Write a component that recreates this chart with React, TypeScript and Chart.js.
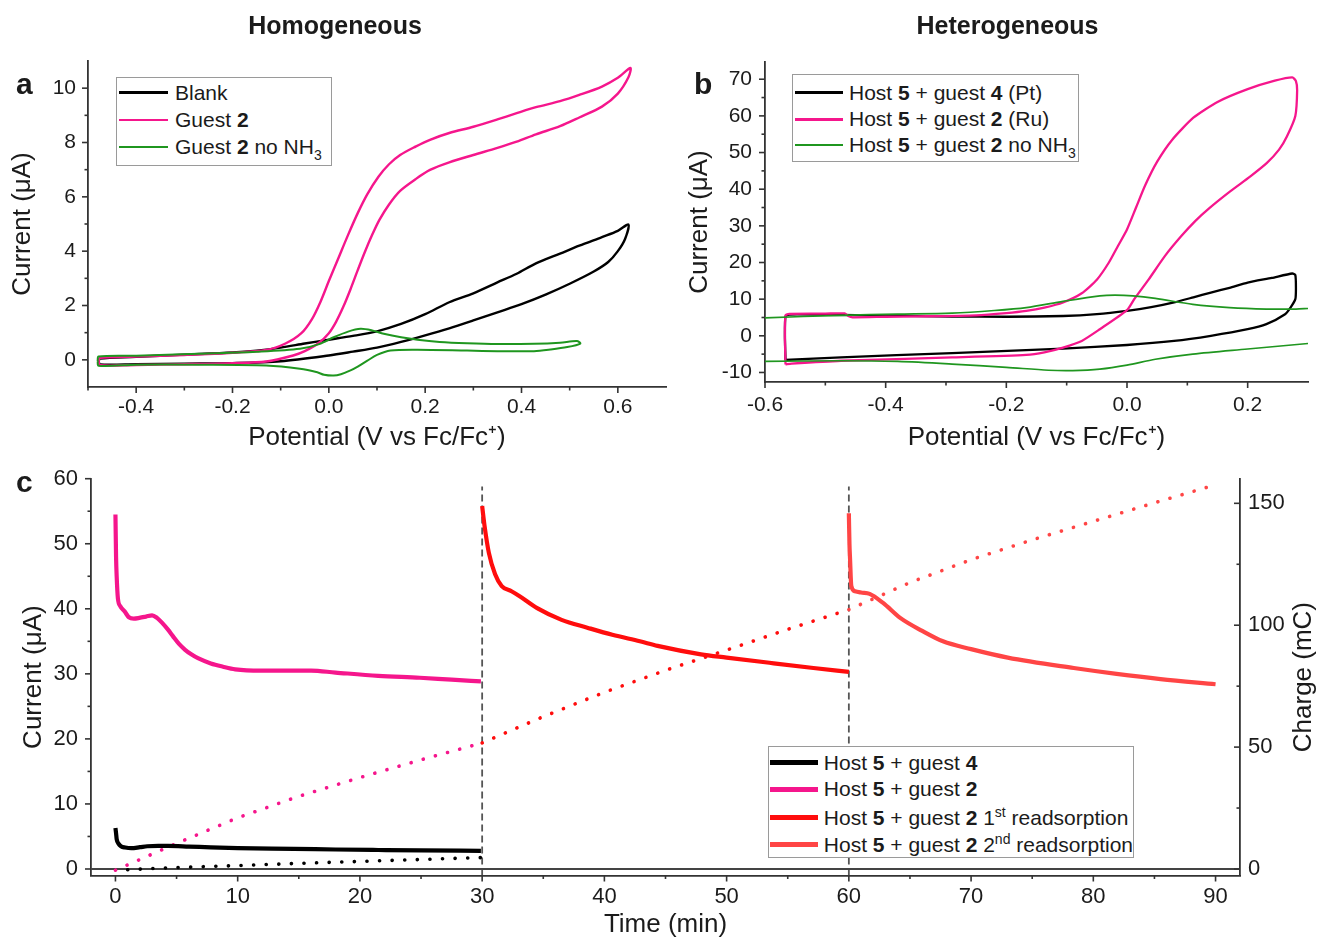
import React, { useEffect, useRef } from "react";
import { Chart, registerables } from "chart.js";

Chart.register(...registerables);

type Pt = [number, number];

const FONT = "'Liberation Sans', Arial, Helvetica, sans-serif";
const INK = "#1b1b1b";
const AXIS = "#333333";
const PINK = "#f5168c";
const GREEN = "#1f961f";
const BLACK = "#000000";
const RED1 = "#ff0d0d";
const RED2 = "#ff4545";

// ---------- Panel a : homogeneous CV (potential V, current uA) ----------
const aBlank: Pt[] = [
  [-0.478, -0.05], [-0.475, -0.17], [-0.4, -0.16], [-0.3, -0.14], [-0.2, -0.12], [-0.1, -0.05],
  [0.0, 0.16], [0.05, 0.3], [0.1, 0.45], [0.15, 0.66], [0.2, 0.9], [0.25, 1.16], [0.3, 1.45],
  [0.35, 1.75], [0.4, 2.05], [0.45, 2.4], [0.5, 2.8], [0.55, 3.25], [0.58, 3.6], [0.6, 4.0],
  [0.615, 4.45], [0.622, 4.98], [0.6, 4.75], [0.567, 4.52], [0.52, 4.2], [0.48, 3.91], [0.43, 3.55],
  [0.39, 3.17], [0.35, 2.85], [0.3, 2.45], [0.25, 2.12], [0.2, 1.68], [0.15, 1.32], [0.1, 1.05],
  [0.05, 0.88], [0.0, 0.74], [-0.05, 0.6], [-0.1, 0.45], [-0.15, 0.34], [-0.2, 0.27], [-0.3, 0.19],
  [-0.4, 0.11], [-0.475, 0.05], [-0.478, -0.05],
];
const aGuest2: Pt[] = [
  [-0.478, -0.07], [-0.475, -0.2], [-0.4, -0.19], [-0.3, -0.16], [-0.2, -0.12], [-0.13, -0.06],
  [-0.074, 0.16], [-0.05, 0.32], [-0.021, 0.62], [0.0, 0.98], [0.015, 1.4], [0.03, 1.95], [0.045, 2.6],
  [0.06, 3.3], [0.075, 3.98], [0.09, 4.6], [0.105, 5.15], [0.125, 5.72], [0.148, 6.22], [0.18, 6.65],
  [0.21, 6.99], [0.25, 7.27], [0.3, 7.54], [0.35, 7.8], [0.39, 8.03], [0.43, 8.3], [0.48, 8.6],
  [0.52, 8.92], [0.567, 9.32], [0.6, 9.8], [0.622, 10.4], [0.626, 10.74], [0.6, 10.38], [0.567, 10.06],
  [0.52, 9.75], [0.48, 9.52], [0.43, 9.3], [0.39, 9.08], [0.35, 8.85], [0.3, 8.58], [0.25, 8.35],
  [0.21, 8.1], [0.18, 7.85], [0.148, 7.54], [0.125, 7.2], [0.103, 6.74], [0.08, 6.1], [0.06, 5.4],
  [0.04, 4.6], [0.02, 3.75], [0.0, 2.9], [-0.017, 2.15], [-0.035, 1.5], [-0.057, 0.98],
  [-0.09, 0.6], [-0.13, 0.36], [-0.2, 0.26], [-0.3, 0.18], [-0.4, 0.12], [-0.475, 0.07], [-0.478, -0.07],
];
const aGuest2NoNH3: Pt[] = [
  [-0.48, -0.05], [-0.478, 0.12], [-0.4, 0.15], [-0.27, 0.22], [-0.15, 0.3], [-0.06, 0.41], [-0.02, 0.58],
  [0.01, 0.83], [0.04, 1.04], [0.066, 1.14], [0.09, 1.08], [0.114, 0.96], [0.15, 0.83], [0.184, 0.74],
  [0.23, 0.66], [0.287, 0.61], [0.35, 0.58], [0.426, 0.59], [0.48, 0.63], [0.515, 0.69], [0.522, 0.6],
  [0.495, 0.47], [0.46, 0.38], [0.426, 0.32], [0.35, 0.32], [0.287, 0.34], [0.184, 0.37], [0.128, 0.34],
  [0.1, 0.18], [0.08, -0.03], [0.06, -0.25], [0.045, -0.39], [0.025, -0.53], [0.01, -0.58], [-0.01, -0.55],
  [-0.024, -0.46], [-0.06, -0.33], [-0.13, -0.21], [-0.27, -0.18], [-0.4, -0.18], [-0.478, -0.22], [-0.48, -0.05],
];
const aXTicks = [-0.4, -0.2, 0, 0.2, 0.4, 0.6];
const aXMinor = [-0.5, -0.3, -0.1, 0.1, 0.3, 0.5];
const aYTicks = [0, 2, 4, 6, 8, 10];
const aYMinor = [1, 3, 5, 7, 9];

// ---------- Panel b : heterogeneous CV ----------
const bPt: Pt[] = [
  [-0.566, -6.6], [-0.567, 0], [-0.566, 5.3], [-0.56, 5.8], [-0.5, 5.75], [-0.4, 5.5], [-0.29, 5.25],
  [-0.2, 5.2], [-0.106, 5.4], [-0.05, 5.9], [0.0, 6.8], [0.04, 7.8], [0.078, 9.1], [0.11, 10.5],
  [0.139, 11.8], [0.17, 13.1], [0.2, 14.5], [0.24, 15.8], [0.274, 17.0], [0.279, 16.6], [0.28, 13],
  [0.279, 10.0], [0.271, 7.7], [0.262, 5.9], [0.231, 3.2], [0.2, 1.8], [0.139, 0.0], [0.078, -1.4],
  [0.0, -2.5], [-0.106, -3.5], [-0.29, -4.7], [-0.474, -5.9], [-0.566, -6.6],
];
const bRu: Pt[] = [
  [-0.566, -7.8], [-0.567, 0], [-0.566, 5.6], [-0.56, 6.0], [-0.5, 6.05], [-0.468, 6.1], [-0.462, 5.4],
  [-0.455, 5.05], [-0.4, 5.2], [-0.35, 5.3], [-0.25, 5.6], [-0.2, 6.2], [-0.167, 6.8], [-0.137, 7.7],
  [-0.106, 9.1], [-0.075, 11.6], [-0.05, 15.3], [-0.03, 20.0], [-0.015, 24.5], [0.0, 29], [0.015, 35],
  [0.03, 41], [0.05, 47.5], [0.075, 53.5], [0.11, 59.5], [0.15, 63.8], [0.2, 67.3], [0.245, 69.6],
  [0.274, 70.5], [0.28, 69.5], [0.282, 67], [0.279, 60], [0.265, 54.4], [0.252, 50.8], [0.2315, 47.1],
  [0.2045, 43.5], [0.171, 39.4], [0.137, 34.9], [0.113, 31.3], [0.09, 27.2], [0.063, 21.8], [0.036, 15.4],
  [0.012, 10], [0.0, 7.0], [-0.045, 1.8], [-0.075, -1.4], [-0.106, -3.2], [-0.137, -4.5], [-0.167, -5.2],
  [-0.29, -5.9], [-0.474, -6.8], [-0.556, -7.6], [-0.566, -7.8],
];
const bNoNH3Upper: Pt[] = [
  [-0.6, 4.9], [-0.474, 5.6], [-0.38, 5.9], [-0.29, 6.2], [-0.22, 6.9], [-0.167, 7.7], [-0.106, 9.4],
  [-0.045, 10.9], [-0.02, 11.1], [0.01, 10.9], [0.047, 10.2], [0.109, 8.6], [0.17, 7.7], [0.231, 7.3],
  [0.28, 7.3], [0.3, 7.45],
];
const bNoNH3Lower: Pt[] = [
  [-0.6, -7.0], [-0.474, -6.8], [-0.38, -7.0], [-0.29, -7.7], [-0.2, -8.6], [-0.13, -9.4], [-0.09, -9.5],
  [-0.045, -9.1], [0.0, -8.0], [0.047, -6.4], [0.109, -5.0], [0.2, -3.6], [0.3, -2.1],
];
const bXTicks = [-0.6, -0.4, -0.2, 0, 0.2];
const bXMinor = [-0.5, -0.3, -0.1, 0.1];
const bYTicks = [-10, 0, 10, 20, 30, 40, 50, 60, 70];
const bYMinor = [-5, 5, 15, 25, 35, 45, 55, 65];

// ---------- Panel c : chronoamperometry (time min, current uA, charge mC) ----------
const cGuest4: Pt[] = [
  [0, 6.3], [0.05, 5.5], [0.1, 4.6], [0.25, 3.9], [0.45, 3.5], [0.8, 3.3], [1.3, 3.2], [2.0, 3.35],
  [2.6, 3.5], [3.5, 3.55], [4.3, 3.55], [6, 3.45], [7.8, 3.32], [10, 3.2], [14.6, 3.1], [18, 3.0],
  [21.5, 2.92], [25, 2.85], [29.9, 2.8],
];
const cGuest2: Pt[] = [
  [0, 54.5], [0.05, 48], [0.1, 45], [0.2, 41.6], [0.4, 40.4], [0.75, 39.6], [1.1, 38.7], [1.5, 38.5],
  [1.95, 38.6], [2.5, 38.8], [3.0, 39.0], [3.4, 38.6], [3.84, 37.8], [4.3, 36.8], [4.7, 35.8], [5.2, 34.6],
  [5.7, 33.7], [6.2, 33.0], [6.75, 32.4], [7.8, 31.6], [8.8, 31.1], [9.8, 30.7], [11.9, 30.5], [14.6, 30.5],
  [16, 30.5], [18, 30.2], [21.5, 29.7], [24.9, 29.4], [27.5, 29.1], [29.9, 28.85],
];
const cReads1: Pt[] = [
  [30.0, 55.8], [30.2, 52.7], [30.55, 48.6], [31.06, 45.3], [31.6, 43.5], [32.4, 42.7], [33.1, 41.9],
  [34.5, 40.1], [36.5, 38.3], [38.6, 37.1], [40.65, 36.0], [42.9, 35.0], [44.35, 34.3], [47.9, 33.0],
  [50, 32.5], [53.5, 31.7], [57.1, 30.9], [60, 30.3],
];
const cReads2: Pt[] = [
  [60.0, 54.7], [60.05, 50], [60.1, 47.6], [60.2, 43.5], [60.5, 42.7], [61.0, 42.5], [61.7, 42.3],
  [62.8, 40.9], [64.2, 38.6], [66.0, 36.6], [67.7, 35.0], [70, 33.8], [73, 32.5], [78.4, 30.9],
  [81.9, 30.0], [85.5, 29.2], [90, 28.4],
];
const cChargeGuest4: Pt[] = [[1, -0.3], [3, 0.2], [5, 0.6], [10, 1.4], [15, 2.3], [20, 3.1], [25, 3.9], [30, 4.7]];
const cChargeGuest2: Pt[] = [[0, -0.5], [5, 10.5], [10, 21], [15, 29.8], [20, 37.5], [25, 44.8], [30, 51.7]];
const cChargeReads1: Pt[] = [[30, 51.7], [35, 62.5], [40, 72.5], [45, 81.5], [50, 89.8], [55, 98.3], [60, 106.4]];
const cChargeReads2: Pt[] = [[60, 106.4], [65, 117.5], [70, 126.9], [75, 135], [80, 142.6], [85, 150.2], [90, 157.6]];
const cSwitchTimes = [30, 60];
const cXTicks = [0, 10, 20, 30, 40, 50, 60, 70, 80, 90];
const cXMinor = [5, 15, 25, 35, 45, 55, 65, 75, 85];
const cYTicks = [0, 10, 20, 30, 40, 50, 60];
const cYMinor = [5, 15, 25, 35, 45, 55];
const cY2Ticks = [0, 50, 100, 150];
const cY2Minor = [25, 75, 125];

// ---------- helpers ----------
const pts = (a: Pt[]) => a.map(([x, y]) => ({ x, y }));

function series(data: Pt[], color: string, width: number, extra: any = {}) {
  return {
    data: pts(data),
    showLine: true,
    borderColor: color,
    backgroundColor: color,
    borderWidth: width,
    pointRadius: 0,
    pointHoverRadius: 0,
    fill: false,
    ...extra,
  };
}

function axis(o: {
  pos: "left" | "bottom" | "right";
  min: number;
  max: number;
  ticks: number[];
  size: number;
  pad: number;
  fontSize: number;
  fmt?: (v: number) => string;
  title?: string;
  titlePad?: number;
}) {
  const horizontal = o.pos === "bottom";
  return {
    type: "linear",
    position: o.pos,
    min: o.min,
    max: o.max,
    afterBuildTicks: (s: any) => {
      s.ticks = o.ticks.map((value) => ({ value }));
    },
    afterFit: (s: any) => {
      if (horizontal) s.height = o.size;
      else s.width = o.size;
      s.paddingLeft = 0;
      s.paddingRight = 0;
      s.paddingTop = 0;
      s.paddingBottom = 0;
    },
    grid: { display: false, drawTicks: false },
    border: { display: true, color: AXIS, width: 1.8 },
    ticks: {
      autoSkip: false,
      maxRotation: 0,
      minRotation: 0,
      padding: o.pad,
      color: INK,
      font: { family: FONT, size: o.fontSize },
      callback: (v: any) => (o.fmt ? o.fmt(Number(v)) : String(v)),
    },
    title: o.title
      ? {
          display: true,
          text: o.title,
          color: INK,
          font: { family: FONT, size: 26, lineHeight: 1 },
          padding: horizontal ? { top: 0, bottom: o.titlePad || 0 } : { top: o.titlePad || 0, bottom: 0 },
        }
      : { display: false },
  };
}

const tickMarks = {
  id: "tickMarks",
  afterDraw(chart: any, _args: any, opts: any) {
    const ctx = chart.ctx;
    const list = (opts && opts.axes) || [];
    ctx.save();
    ctx.strokeStyle = AXIS;
    ctx.lineWidth = 1.6;
    for (const ax of list) {
      const s = chart.scales[ax.id];
      const draw = (vals: number[], len: number) =>
        vals.forEach((v) => {
          const p = s.getPixelForValue(v);
          ctx.beginPath();
          if (ax.side === "bottom") {
            ctx.moveTo(p, s.top);
            ctx.lineTo(p, s.top + len);
          } else if (ax.side === "left") {
            ctx.moveTo(s.right, p);
            ctx.lineTo(s.right - len, p);
          } else {
            ctx.moveTo(s.left, p);
            ctx.lineTo(s.left - len, p);
          }
          ctx.stroke();
        });
      draw(ax.major, 6);
      draw(ax.minor, 3.5);
    }
    ctx.restore();
  },
};

const rightTitle = {
  id: "rightTitle",
  afterDraw(chart: any, _args: any, o: any) {
    if (!o || !o.text) return;
    const { ctx, chartArea } = chart;
    ctx.save();
    ctx.translate(o.x, (chartArea.top + chartArea.bottom) / 2);
    ctx.rotate(-Math.PI / 2);
    ctx.font = `26px ${FONT}`;
    ctx.fillStyle = INK;
    ctx.textAlign = "center";
    ctx.textBaseline = "middle";
    ctx.fillText(o.text, 0, 0);
    ctx.restore();
  },
};

const baseOptions = (padding: any) => ({
  responsive: false,
  animation: false,
  devicePixelRatio: 1,
  layout: { padding },
  events: [],
});

function configA() {
  return {
    type: "scatter",
    data: {
      datasets: [
        series(aGuest2NoNH3, GREEN, 2, { tension: 0.3 }),
        series(aGuest2, PINK, 2.4, { tension: 0.3 }),
        series(aBlank, BLACK, 2.4, { tension: 0.3 }),
      ],
    },
    options: {
      ...baseOptions({ left: 0, top: 61, right: 14, bottom: 0 }),
      plugins: {
        legend: { display: false },
        tooltip: { enabled: false },
        tickMarks: {
          axes: [
            { id: "x", side: "bottom", major: aXTicks, minor: aXMinor },
            { id: "y", side: "left", major: aYTicks, minor: aYMinor },
          ],
        },
      },
      scales: {
        x: axis({ pos: "bottom", min: -0.5, max: 0.7, ticks: aXTicks, size: 73, pad: 8, fontSize: 21, fmt: (v) => v.toFixed(1), title: "Potential (V vs Fc/Fc\u207A)", titlePad: 9 }),
        y: axis({ pos: "left", min: -1, max: 11, ticks: aYTicks, size: 88, pad: 12, fontSize: 21, title: "Current (\u03BCA)", titlePad: 9.5 }),
      },
    },
    plugins: [tickMarks],
  };
}

function configB() {
  return {
    type: "scatter",
    data: {
      datasets: [
        series(bNoNH3Upper, GREEN, 1.7, { tension: 0.3 }),
        series(bNoNH3Lower, GREEN, 1.7, { tension: 0.3 }),
        series(bRu, PINK, 2.3, { tension: 0.2 }),
        series(bPt, BLACK, 2.3, { tension: 0.2 }),
      ],
    },
    options: {
      ...baseOptions({ left: 0, top: 62, right: 11, bottom: 0 }),
      plugins: {
        legend: { display: false },
        tooltip: { enabled: false },
        tickMarks: {
          axes: [
            { id: "x", side: "bottom", major: bXTicks, minor: bXMinor },
            { id: "y", side: "left", major: bYTicks, minor: bYMinor },
          ],
        },
      },
      scales: {
        x: axis({ pos: "bottom", min: -0.6, max: 0.3, ticks: bXTicks, size: 78, pad: 11, fontSize: 21, fmt: (v) => v.toFixed(1), title: "Potential (V vs Fc/Fc\u207A)", titlePad: 9 }),
        y: axis({ pos: "left", min: -12.6, max: 74.7, ticks: bYTicks, size: 85, pad: 13, fontSize: 21, title: "Current (\u03BCA)", titlePad: 6.5 }),
      },
    },
    plugins: [tickMarks],
  };
}

function configC() {
  const dotted = { borderDash: [0.1, 12.5], borderCapStyle: "round", yAxisID: "y2" };
  const refLines = cSwitchTimes.map((t) =>
    series([[t, -1], [t, 58.8]], "#555555", 1.8, { borderDash: [7, 4], order: 10 })
  );
  return {
    type: "scatter",
    data: {
      datasets: [
        series(cGuest4, BLACK, 4.2, { cubicInterpolationMode: "monotone" }),
        series(cGuest2, PINK, 4.2, { cubicInterpolationMode: "monotone" }),
        series(cReads1, RED1, 4.2, { cubicInterpolationMode: "monotone" }),
        series(cReads2, RED2, 4.2, { cubicInterpolationMode: "monotone" }),
        series(cChargeGuest4, BLACK, 3.6, dotted),
        series(cChargeGuest2, PINK, 3.6, dotted),
        series(cChargeReads1, RED1, 3.6, dotted),
        series(cChargeReads2, RED2, 3.6, dotted),
        series([[-2, 0], [92, 0]], "#444444", 1.8, { order: 10 }),
        ...refLines,
      ],
    },
    options: {
      ...baseOptions({ left: 0, top: 18.7, right: 0, bottom: 0 }),
      plugins: {
        legend: { display: false },
        tooltip: { enabled: false },
        tickMarks: {
          axes: [
            { id: "x", side: "bottom", major: cXTicks, minor: cXMinor },
            { id: "y", side: "left", major: cYTicks, minor: cYMinor },
            { id: "y2", side: "rightIn", major: cY2Ticks, minor: cY2Minor },
          ],
        },
        rightTitle: { text: "Charge (mC)", x: 1303.5 },
      },
      scales: {
        x: axis({ pos: "bottom", min: -2, max: 92, ticks: cXTicks, size: 62.5, pad: 8, fontSize: 22, title: "Time (min)", titlePad: 0 }),
        y: axis({ pos: "left", min: -1, max: 60, ticks: cYTicks, size: 91, pad: 13, fontSize: 22, title: "Current (\u03BCA)", titlePad: 20.7 }),
        y2: axis({ pos: "right", min: -2.67, max: 160.1, ticks: cY2Ticks, size: 79, pad: 8, fontSize: 22 }),
      },
    },
    plugins: [tickMarks, rightTitle],
  };
}

function ChartCanvas({ x, y, w, h, make }: { x: number; y: number; w: number; h: number; make: () => any }) {
  const ref = useRef<HTMLCanvasElement>(null);
  useEffect(() => {
    const chart = new Chart(ref.current as HTMLCanvasElement, make());
    return () => chart.destroy();
  }, []);
  return (
    <canvas
      ref={ref}
      width={w}
      height={h}
      style={{ position: "absolute", left: x, top: y, width: w, height: h, display: "block" }}
    />
  );
}

type Row = { cy: number; color: string; lw: number; label: React.ReactNode };

function Legend({ x, y, w, h, rows, lineX, lineLen, textX }: { x: number; y: number; w: number; h: number; rows: Row[]; lineX: number; lineLen: number; textX: number }) {
  return (
    <div
      style={{
        position: "absolute",
        left: x,
        top: y,
        width: w,
        height: h,
        border: "1.5px solid #9a9a9a",
        background: "#ffffff",
        boxSizing: "border-box",
        fontFamily: FONT,
        fontSize: 21,
        color: INK,
      }}
    >
      {rows.map((r, i) => (
        <div key={i} style={{ position: "absolute", left: 0, top: r.cy - 13, height: 26, width: "100%" }}>
          <div style={{ position: "absolute", left: lineX, top: 13 - r.lw / 2, width: lineLen, height: r.lw, background: r.color }} />
          <div style={{ position: "absolute", left: textX, top: 0, height: 26, lineHeight: "26px", whiteSpace: "nowrap" }}>{r.label}</div>
        </div>
      ))}
    </div>
  );
}

const Sup = ({ t }: { t: string }) => <span style={{ fontSize: 14, position: "relative", top: -8 }}>{t}</span>;
const Sub = ({ t }: { t: string }) => <span style={{ fontSize: 14, position: "relative", top: 6 }}>{t}</span>;

const textStyle = (left: number, top: number, width: number, size: number, align: "left" | "center"): React.CSSProperties => ({
  position: "absolute",
  left,
  top,
  width,
  textAlign: align,
  fontFamily: FONT,
  fontWeight: "bold",
  fontSize: size,
  lineHeight: "30px",
  color: INK,
  whiteSpace: "nowrap",
});

export default function App() {
  return (
    <div style={{ position: "absolute", left: 0, top: 0, width: 1319, height: 938, overflow: "hidden", background: "#ffffff" }}>
      <ChartCanvas x={0} y={0} w={680} h={460} make={configA} />
      <ChartCanvas x={680} y={0} w={639} h={460} make={configB} />
      <ChartCanvas x={0} y={460} w={1319} h={478} make={configC} />

      <div style={textStyle(135, 10, 400, 25, "center")}>Homogeneous</div>
      <div style={textStyle(807.5, 10, 400, 25, "center")}>Heterogeneous</div>
      <div style={textStyle(16, 69, 30, 30, "left")}>a</div>
      <div style={textStyle(694, 69, 30, 30, "left")}>b</div>
      <div style={textStyle(16, 467, 30, 30, "left")}>c</div>

      <Legend
        x={116}
        y={76.7}
        w={215.6}
        h={89.3}
        lineX={2}
        lineLen={49}
        textX={58}
        rows={[
          { cy: 15, color: BLACK, lw: 2.5, label: <>Blank</> },
          { cy: 42.3, color: PINK, lw: 2.5, label: <>Guest <b>2</b></> },
          { cy: 69.3, color: GREEN, lw: 2.2, label: <>Guest <b>2</b> no NH<Sub t="3" /></> },
        ]}
      />
      <Legend
        x={792}
        y={74.3}
        w={286.5}
        h={87.4}
        lineX={2}
        lineLen={48}
        textX={56}
        rows={[
          { cy: 17.4, color: BLACK, lw: 2.5, label: <>Host <b>5</b> + guest <b>4</b> (Pt)</> },
          { cy: 44, color: PINK, lw: 2.5, label: <>Host <b>5</b> + guest <b>2</b> (Ru)</> },
          { cy: 69.7, color: GREEN, lw: 2, label: <>Host <b>5</b> + guest <b>2</b> no NH<Sub t="3" /></> },
        ]}
      />
      <Legend
        x={767.8}
        y={745.7}
        w={366}
        h={112.6}
        lineX={1}
        lineLen={48}
        textX={55}
        rows={[
          { cy: 16, color: BLACK, lw: 5, label: <>Host <b>5</b> + guest <b>4</b></> },
          { cy: 42.6, color: PINK, lw: 5, label: <>Host <b>5</b> + guest <b>2</b></> },
          { cy: 71, color: RED1, lw: 5, label: <>Host <b>5</b> + guest <b>2</b> 1<Sup t="st" /> readsorption</> },
          { cy: 98.3, color: RED2, lw: 5, label: <>Host <b>5</b> + guest <b>2</b> 2<Sup t="nd" /> readsorption</> },
        ]}
      />
    </div>
  );
}
